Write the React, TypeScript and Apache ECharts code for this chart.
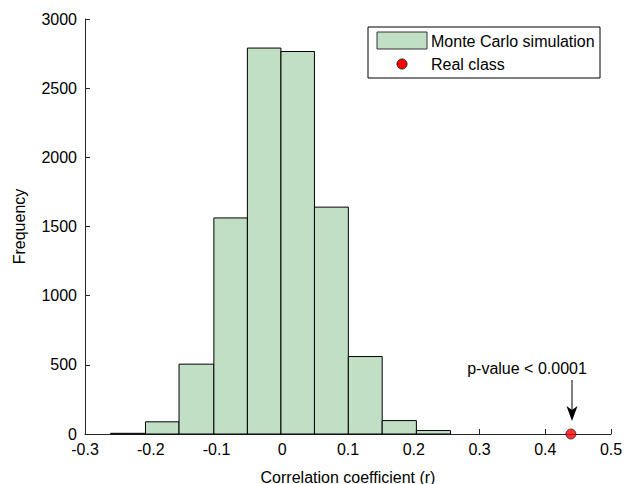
import React, { useEffect, useRef } from "react";
import * as echarts from "echarts";

// Histogram bin edges (correlation coefficient r) and counts
const binEdges = [-0.261, -0.208, -0.157, -0.104, -0.053, -0.002, 0.049, 0.1005, 0.152, 0.204, 0.256];
const counts = [5, 88, 505, 1562, 2790, 2765, 1640, 560, 97, 25];
// Real class correlation
const realClass = [[0.439, 0]];
const xTickMin = -0.3;
const xTickMax = 0.5;
const yTickMax = 3000;

const FONT = "'Liberation Sans', Arial, sans-serif";
const FILL = "#c1dfc5";
const AX = "#262626";

export default function App() {
  const ref = useRef<HTMLDivElement>(null);
  useEffect(() => {
    if (!ref.current) return;
    const chart = echarts.init(ref.current, undefined, { renderer: "svg" });
    const histData = counts.map((c, i) => [binEdges[i], binEdges[i + 1], c]);
    chart.setOption({
      animation: false,
      textStyle: { fontFamily: FONT },
      grid: { left: 85, right: 14, top: 19, bottom: 50, containLabel: false, outerBoundsMode: "none" },
      xAxis: {
        type: "value",
        min: xTickMin,
        max: xTickMax,
        interval: 0.1,
        name: "Correlation coefficient (r)",
        nameLocation: "middle",
        nameGap: 35,
        nameTextStyle: { fontFamily: FONT, fontSize: 16, color: "#000", lineHeight: 16 },
        axisLine: { show: true, onZero: false, lineStyle: { color: AX, width: 1 } },
        axisTick: { show: true, inside: true, length: 5, lineStyle: { color: AX } },
        axisLabel: {
          fontFamily: FONT,
          fontSize: 16,
          color: "#000",
          margin: 9,
          lineHeight: 12,
          formatter: (v: number) => (Math.abs(v) < 1e-9 ? "0" : String(+v.toFixed(1))),
        },
        splitLine: { show: false },
      },
      yAxis: {
        type: "value",
        min: 0,
        max: yTickMax,
        interval: 500,
        name: "Frequency",
        nameLocation: "middle",
        nameGap: 58,
        nameTextStyle: { fontFamily: FONT, fontSize: 16, color: "#000" },
        axisLine: { show: true, onZero: false, lineStyle: { color: AX, width: 1 } },
        axisTick: { show: true, inside: true, length: 5, lineStyle: { color: AX } },
        axisLabel: {
          fontFamily: FONT,
          fontSize: 16,
          color: "#000",
          margin: 8,
          lineHeight: 12,
          formatter: (v: number) => String(v),
        },
        splitLine: { show: false },
      },
      series: [
        {
          name: "Monte Carlo simulation",
          type: "custom",
          data: histData,
          encode: { x: [0, 1], y: 2 },
          renderItem: (params: any, api: any) => {
            const x0 = api.value(0);
            const x1 = api.value(1);
            const y = api.value(2);
            const p0 = api.coord([x0, y]);
            const p1 = api.coord([x1, 0]);
            return {
              type: "rect",
              shape: { x: p0[0], y: p0[1], width: p1[0] - p0[0], height: p1[1] - p0[1] },
              style: { fill: FILL, stroke: "#000", lineWidth: 1 },
            };
          },
          z: 2,
        },
        {
          name: "Real class",
          type: "scatter",
          data: realClass,
          symbolSize: 10,
          itemStyle: { color: "#ff0000", borderColor: "#222", borderWidth: 1 },
          z: 5,
        },
      ],
      graphic: [
        {
          type: "group",
          z: 100,
          children: [
            { type: "rect", shape: { x: 368, y: 27, width: 232, height: 51 }, style: { fill: "#fff", stroke: "#000", lineWidth: 1 } },
            { type: "rect", shape: { x: 377, y: 32, width: 50, height: 17 }, style: { fill: FILL, stroke: "#333", lineWidth: 1 } },
            { type: "circle", shape: { cx: 402, cy: 64, r: 5 }, style: { fill: "#ff0000", stroke: "#222", lineWidth: 1 } },
            { type: "text", x: 431, y: 41, style: { text: "Monte Carlo simulation", font: `16px ${FONT}`, fill: "#000", verticalAlign: "middle", align: "left" } },
            { type: "text", x: 431, y: 64.5, style: { text: "Real class", font: `16px ${FONT}`, fill: "#000", verticalAlign: "middle", align: "left" } },
          ],
        },
        { type: "text", x: 527, y: 368, z: 100, style: { text: "p-value < 0.0001", font: `16px ${FONT}`, fill: "#000", verticalAlign: "middle", align: "center" } },
        { type: "line", z: 100, shape: { x1: 572, y1: 380, x2: 572, y2: 414 }, style: { stroke: "#000", lineWidth: 1 } },
        { type: "polygon", z: 100, shape: { points: [[572, 421], [566.5, 406], [572, 410], [577.5, 406]] }, style: { fill: "#000" } },
      ],
    });
    return () => chart.dispose();
  }, []);
  return (
    <div
      ref={ref}
      style={{ position: "absolute", left: 0, top: 0, width: 625, height: 484, background: "#fff" }}
    />
  );
}
